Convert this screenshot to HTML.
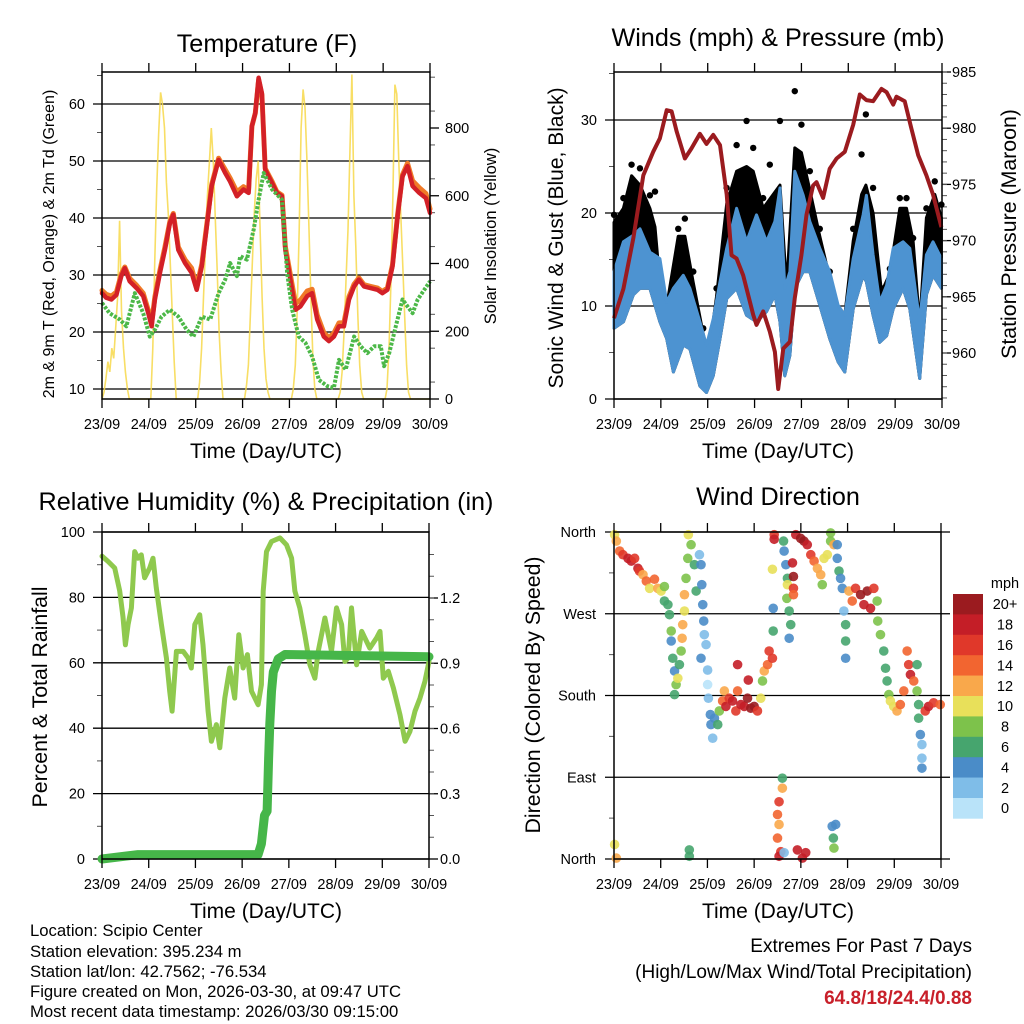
<!DOCTYPE html>
<html><head><meta charset="utf-8"><title>Station Meteogram</title>
<style>
html,body{margin:0;padding:0;background:#fff;}
svg{display:block;font-family:"Liberation Sans",Arial,sans-serif;}
</style></head>
<body>
<svg id="chart" width="1024" height="1024" viewBox="0 0 1024 1024" xmlns="http://www.w3.org/2000/svg">
<rect x="0" y="0" width="1024" height="1024" fill="#fff"/>
<g id="p1"></g>
<g id="p2"></g>
<g id="p3"></g>
<g id="p4"></g>
<g id="legend"></g>

<text x="267" y="52" font-size="25.2" text-anchor="middle">Temperature (F)</text>
<text x="778" y="46" font-size="25.2" text-anchor="middle">Winds (mph) &amp; Pressure (mb)</text>
<text x="266" y="510" font-size="25.2" text-anchor="middle">Relative Humidity (%) &amp; Precipitation (in)</text>
<text x="778" y="505" font-size="25.2" text-anchor="middle">Wind Direction</text>

<text x="266" y="458" font-size="21" text-anchor="middle">Time (Day/UTC)</text>
<text x="778" y="458" font-size="21" text-anchor="middle">Time (Day/UTC)</text>
<text x="266" y="918" font-size="21" text-anchor="middle">Time (Day/UTC)</text>
<text x="778" y="918" font-size="21" text-anchor="middle">Time (Day/UTC)</text>

<text transform="translate(54,244) rotate(-90)" font-size="16" text-anchor="middle">2m &amp; 9m T (Red, Orange) &amp; 2m Td (Green)</text>
<text transform="translate(496,236) rotate(-90)" font-size="16.5" text-anchor="middle">Solar Insolation (Yellow)</text>
<text transform="translate(563,238) rotate(-90)" font-size="21" text-anchor="middle">Sonic Wind &amp; Gust (Blue, Black)</text>
<text transform="translate(1016,234) rotate(-90)" font-size="21.3" text-anchor="middle">Station Pressure (Maroon)</text>
<text transform="translate(47,697) rotate(-90)" font-size="21.3" text-anchor="middle">Percent &amp; Total Rainfall</text>
<text transform="translate(540,695) rotate(-90)" font-size="21.3" text-anchor="middle">Direction (Colored By Speed)</text>

<g font-size="16.7">
<text x="30" y="936">Location: Scipio Center</text>
<text x="30" y="957">Station elevation: 395.234 m</text>
<text x="30" y="977">Station lat/lon: 42.7562; -76.534</text>
<text x="30" y="997">Figure created on Mon, 2026-03-30, at 09:47 UTC</text>
<text x="30" y="1017">Most recent data timestamp: 2026/03/30 09:15:00</text>
</g>
<g font-size="19" text-anchor="end">
<text x="972" y="952">Extremes For Past 7 Days</text>
<text x="972" y="978">(High/Low/Max Wind/Total Precipitation)</text>
<text x="972" y="1004" fill="#c8202a" font-weight="bold">64.8/18/24.4/0.88</text>
</g>
</svg>
<script>
// ---------- data ----------
const dayLabels = ['23/09','24/09','25/09','26/09','27/09','28/09','29/09','30/09'];

const tempHours = [0,2.2,4.8,7.4,9.9,11.7,14.2,17.7,21.1,23.7,25.4,27.1,29.7,32.2,34.8,36.5,39.1,42.5,45.9,48.5,51.1,53.7,56.2,59.7,63.1,65.6,69.1,72.5,75.1,76.8,78.5,80.2,81.9,83.6,87.1,89.6,92.2,93.9,96.5,99.1,101.6,105.1,107.6,110.2,113.6,116.2,118.8,121.4,123.9,126.5,129.1,131.6,134.2,137.6,141.1,143.6,146.2,148.8,151.4,153.9,156.5,159.1,162.5,165.9,168];
const temp2m = [26.8,26,25.7,26.5,29.8,31.2,28.9,27.7,26.3,23.3,21,25.7,30.4,34.4,39.1,40.6,34.4,32.1,30.4,27.4,31.5,38.5,45.6,50.2,47.9,46.4,43.8,45,44.4,56.1,58.4,64.6,61.9,48.5,46.1,44.4,43.8,34.4,29.2,23.9,24.5,26.3,26.8,22.2,19.2,18.4,19.2,21,21,25.7,28,29.2,28,27.7,27.4,26.8,27.4,31.5,40.3,47.3,49.1,45.6,44.4,43.5,40.9];
const temp9m = [27.3,26.6,26.3,27,30.2,31.4,29.4,28.2,26.8,23.8,21.5,26.2,30.9,34.9,39.4,40.8,34.9,32.7,31.2,28,31.9,38.9,45.9,50.5,48.5,47,44.6,45.5,44.9,56.1,58.4,64.2,61.6,48.7,46.4,44.6,44,35,30,25,25.6,27.2,27.5,23,19.9,19,19.8,21.6,21.6,26.2,28.4,29.5,28.3,28,27.7,27.1,27.7,31.8,40.6,47.6,49.6,46.5,45.3,44.3,41.6];
const tdHours = [0,3.9,9.1,12.5,16.8,21.1,24.5,27.1,30.5,34.8,39.1,43.4,46.8,51.1,55.4,59.7,63.1,65.6,69.1,70.8,74.2,77.7,80.2,82.8,87.1,90.5,92.2,94.8,97.4,100.8,104.2,107.6,111.1,115.4,118.8,121.4,124.8,129.1,132.5,135.9,139.4,142.8,144.5,147.1,150.5,153.9,156.5,159.1,161.7,165.1,168];
const dewpoint2m = [25.1,23.3,22.2,21,26.8,23.3,19.2,20.4,22.7,23.9,22.7,20.4,19.2,22.7,22.2,26.8,29.2,32.1,29.8,33.3,32.7,38,43.2,47.9,45,43.8,43.2,30.4,23.9,19.2,18.1,15.7,11.6,10.5,10.2,15.1,13.4,19.2,17.5,16.3,17.5,17.5,14,16.3,21,25.7,24.5,23.3,25.7,27.4,28.9];
// solar insolation (W/m2), hourly from 00 UTC of each day; remaining hours of the day are 0
const solarDay0 = [0,20,60,110,80,150,120,210,300,526,260,150,80,30,0];
const solarDay1 = [0,0,150,400,620,780,905,870,800,640,540,400,250,110,0];
const solarDay2 = [0,0,50,150,300,450,600,700,800,700,540,380,200,80,0];
const solarDay3 = [0,0,40,100,250,400,550,650,703,500,300,150,60,20,0];
const solarDay4 = [0,0,30,100,260,500,800,914,860,700,500,300,120,30,0];
const solarDay5 = [0,0,20,80,200,350,500,740,958,600,450,250,100,20,0];
const solarDay6 = [0,0,30,150,350,600,928,900,700,550,400,250,100,20,0];

const presHours = [0,4.8,9.9,15,20.1,23.5,27,29.5,32.1,36.3,39.7,44,47.4,50.8,54.3,57.7,60.2,62.8,66.2,71.3,73,76.4,79.8,82.4,84.1,86.7,90.1,92.6,96,98.6,102,103.7,107.1,110.5,114,118.2,122.5,125.9,129.3,132.7,137,139.6,143,144.7,148.9,152.3,155.8,160,163.4,167.7];
const pressure = [963.1,965.7,970.2,975.8,977.9,979.1,981.6,981.5,979.7,977.3,978.2,979.5,978.6,979.4,978.5,974.1,968.7,968.4,966.9,963.4,962.5,963.7,961.9,960.1,956.8,960.4,961,964.9,968.7,972.3,974.9,975.2,973.8,976.4,977.3,977.9,980.3,983,982.5,982.4,983.5,983.2,982.1,982.8,982.4,980,977.6,975.8,974.1,971.2];
const windHours = [0,4.8,9.9,13.3,18.4,23.5,27,30.4,35.5,38.9,44,47.4,50.8,54.3,57.7,62.8,67.9,73,78.1,82.4,85,87.5,90.1,92.6,96.9,100.3,105.4,110.5,114.8,118.2,122.5,127.6,129.3,132.7,136.1,139.6,143,148.1,151.5,156.6,160,163.4,167.7];
const windLow = [7.6,8.3,11.2,11.9,11.9,8.3,6.5,2.9,5.8,5.4,1.4,0.7,2.5,6.5,10.8,11.9,9,8.3,9.4,11.2,8.3,2.5,4.7,11.9,13.7,13.7,10.1,6.5,4,2.9,9.7,13.3,12.6,9,6.1,6.8,9.7,11.9,9.7,2.2,11.2,13.3,11.9];
const windHigh = [13.7,16.9,17.6,18.3,15.8,15.1,10.4,11.9,13.3,11.9,8.3,5.8,8.6,12.6,16.2,20.5,16.9,19.8,16.9,19.1,22.7,11.9,13.7,24.5,21.9,19.1,16.2,13.7,10.1,9,15.1,19.8,21.9,15.5,10.4,12.2,16.2,16.9,16.2,8.3,15.5,16.9,15.1];
const gustHours = [0,4.8,9,13.3,18.4,21,23.5,27,32.9,36.3,40.6,45.7,48.3,52.5,57.7,62.8,67.9,71.3,76.4,79.8,85,88.4,92.6,96,100.3,105.4,110.5,117.4,122.5,126.8,129,132.7,137,141.3,146.4,149.8,153.2,156.6,160,164.3,167.7];
const gust = [19.8,21.6,25.2,24.8,21.9,22.3,13.7,10.8,18.3,19.4,13.7,7.6,4.7,11.9,22.7,27.3,29.9,27,21.6,25.2,29.9,12.6,33.1,29.5,24.5,18.3,13.7,7.6,18.3,26.3,30.6,22.7,11.9,14,21.6,21.6,17.3,8.3,20.5,23.4,20.9];
const gustDense = [19,20.5,24,23,20.5,18.5,12.5,10,17.5,17.5,12.5,7,4.5,11,21,24.5,25,24.5,20.5,21.5,23,12,27,26.5,22.5,17.5,13,7.5,17,22,23,20,11.5,13.5,20.5,20.5,17,8,19.5,22,19.5];

const rhHours = [0,3.1,6.5,9.1,10.8,12,13.4,15.1,16.8,18.5,20.2,21.9,24.5,26.2,27.9,30.5,33.1,34.8,36,38.2,41.7,44.2,45.9,47.7,50.2,51.9,54.5,56.2,58.8,60.5,63.1,65.6,68.2,70.3,72.5,74.7,76.8,80.2,81.9,82.8,84.5,87.1,91.4,94.8,97.4,99.1,101.6,104.2,106.8,109.4,111.1,114.5,117.9,120.5,123.1,124.8,126.5,128.2,130.8,133.4,137.6,141.1,142.8,144.5,147.1,149.7,153.1,155.7,158.2,160.8,163.4,165.9,168];
const relHumidity = [92.6,91,89,82,74,65.5,71.7,76.8,94,92,93,86,89,92,82.9,71.7,61.5,51.3,45.2,63.5,63.5,61.5,58.4,71.7,74.7,65.5,45.2,36,41.1,34,49.2,58.4,49.2,68.6,58.4,62.5,51.3,47.2,53.3,81.9,94,97.1,98.2,96.1,92,81.9,76.8,68.6,59.4,55.3,63.5,73.7,63.5,76.8,71.7,60.4,61.5,76.8,59.4,69.6,64.5,67.6,69.6,55.3,57.4,52.3,44.1,36,39,45.2,49.2,54.3,60.4];
const precipHours = [0,18.5,80.2,81.9,83.5,84.8,85.2,85.6,86.2,87.1,88,90.5,94,168];
const precipTotal = [0,0.02,0.02,0.07,0.2,0.22,0.33,0.46,0.62,0.77,0.86,0.92,0.94,0.93];

const dirHours = [0.3,1.2,2.9,4.6,7.2,8.9,10.6,12.3,13.1,14.9,16.6,18.3,20.8,22.5,24.2,25.9,25.9,27.7,28.5,29.4,29.4,30.2,31.1,31.9,31.1,32.8,33.6,34.5,35,35.3,36.2,36.2,37,37.9,38.2,39.6,41.3,42.2,43.9,44.7,45.1,45.6,46.1,46.4,47.3,44.7,48.1,48.1,48.5,49.5,49.8,50.7,51.6,53.3,54.1,55.8,56.7,57.5,59.2,60.9,62.6,63.5,63.5,65.2,66.9,68.6,69,70.3,72,73.7,75.4,76.3,77.2,78.9,79.7,81.4,82.3,82.3,81.4,81.8,81.8,87.1,87.4,88.3,89.1,89.1,88.8,90,90.8,90,91.7,92.2,92.2,92.2,84.8,84,84.8,84,85.7,84.8,86.5,86.5,87.4,0.3,1.2,38.7,38.7,94.2,96.8,98.5,112.1,112.7,113,113.9,93.4,95.9,97.6,99.3,101.1,102.8,104.5,106.2,107,107.9,109.6,111.3,111.3,113,114.7,114.7,115.6,116.4,117.3,118.1,119,119,119,120.7,122.4,124.1,126.7,128.4,130.1,131.8,133.5,135.2,135.5,136.9,138.6,139.5,140.3,141.2,142,143.7,145.4,147.1,148.9,150.6,151.4,152.3,154,155.7,155.7,156.5,156.5,157.4,158.2,158.2,158.2,159.9,161.6,164.2,167.6];
const dirDegrees = [357,350,339,335,331,328,331,320,317,313,306,298,308,298,295,300,284,280,269,251,240,221,207,192,181,199,214,229,243,258,273,291,309,331,357,346,324,295,335,324,302,280,262,247,236,221,208,192,177,159,148,133,155,148,163,174,185,168,177,174,163,214,185,170,168,177,197,166,168,163,177,196,207,214,229,221,357,352,319,276,251,350,339,324,309,302,287,273,258,243,326,311,298,291,63,49,38,23,8,3,89,78,7,16,1,10,3,10,1,7,36,23,12,38,357,353,350,346,335,328,320,313,302,331,335,350,359,346,346,331,317,309,298,273,258,240,221,295,284,298,291,280,295,276,298,284,262,247,229,210,196,181,174,168,163,170,185,229,214,203,196,214,185,170,155,137,126,111,100,163,168,172,170];
const dirSpeed = [10,12,14,16,18,18,16,18,16,12,14,10,14,12,10,8,6,6,6,8,4,6,4,8,6,10,6,8,12,12,10,12,8,8,10,8,6,6,2,4,4,4,4,2,2,4,2,1,2,4,4,2,4,6,8,14,12,18,16,18,16,18,14,18,18,20,18,20,20,16,10,8,12,14,16,16,16,18,10,4,6,6,4,4,6,10,8,6,6,4,18,20,16,14,16,14,12,14,16,18,6,12,2,10,12,6,6,18,18,18,4,6,8,4,18,20,20,18,16,14,12,12,8,10,10,8,8,12,4,4,6,4,4,2,6,6,4,12,14,16,20,18,20,18,16,8,8,8,6,6,6,8,10,10,12,14,14,14,16,18,14,6,8,6,6,4,2,2,4,16,18,16,14];

const speedBins = [0,2,4,6,8,10,12,14,16,18,20];
const speedLabels = ['0','2','4','6','8','10','12','14','16','18','20+'];
const speedColors = ['#b9e3f9','#7fbde8','#4a8cc8','#46a56e','#7dc24b','#e8e05a','#f9a84b','#f26530','#e0382a','#c41e27','#9b1b1f'];

const tempTicks = [10,20,30,40,50,60];
const solarTicks = [0,200,400,600,800];
const windTicks = [0,10,20,30];
const presTicks = [960,965,970,975,980,985];
const rhTicks = [0,20,40,60,80,100];
const precipTicks = [0,0.3,0.6,0.9,1.2];
const precipTickLabels = ['0.0','0.3','0.6','0.9','1.2'];
const dirTicks = [0,90,180,270,360];
const dirTickLabels = ['North','East','South','West','North'];

// ---------- helpers ----------
const NS = 'http://www.w3.org/2000/svg';
function mk(tag, attrs, parent){
  const e = document.createElementNS(NS, tag);
  for (const k in attrs) e.setAttribute(k, attrs[k]);
  parent.appendChild(e);
  return e;
}
function lin(d0,d1,r0,r1){ return v => r0 + (v-d0)*(r1-r0)/(d1-d0); }
function pathOf(xs, ys, sx, sy){
  let d = '';
  for (let i=0;i<xs.length;i++) d += (i?'L':'M') + sx(xs[i]).toFixed(1) + ' ' + sy(ys[i]).toFixed(1);
  return d;
}
function speedColor(s){
  let idx = 0;
  for (let i=0;i<speedBins.length;i++) if (s >= speedBins[i]) idx = i;
  return speedColors[idx];
}

function frame(g, P){
  for (let d=0; d<dayLabels.length; d++){
    const x = P.sx(d*24);
    const t1 = mk('line',{x1:x,y1:P.y0-9,x2:x,y2:P.y0,stroke:'#000','stroke-width':1.3},g);
    
    
    const t2 = mk('line',{x1:x,y1:P.y1,x2:x,y2:P.y1+9,stroke:'#000','stroke-width':1.3},g);
    
    
    const lb = mk('text',{x:x,y:P.y1+30,'font-size':14.5,'text-anchor':'middle'},g);
    lb.textContent = dayLabels[d];
    
    
  }
  const r = mk('rect',{x:P.x0,y:P.y0,width:P.x1-P.x0,height:P.y1-P.y0,fill:'none',stroke:'#000','stroke-width':1.5},g);
  
  
}
function leftAxis(g, P, ticks, labels, sy, minorStart, minorStep, minorEnd, grid){
  for (let i=0;i<ticks.length;i++){
    const y = sy(ticks[i]);
    const gl = mk('line',{x1:P.x0-9,y1:y,x2:grid?P.x1:P.x0,y2:y,stroke:'#000','stroke-width':1.3},g);
    
    
    const lb = mk('text',{x:P.x0-P.lpad,y:y+5,'font-size':14.5,'text-anchor':'end'},g);
    lb.textContent = labels[i];
    
    
  }
  for (let v=minorStart; v<=minorEnd+1e-9; v+=minorStep){
    const y = sy(v);
    const mt = mk('line',{x1:P.x0-5,y1:y,x2:P.x0,y2:y,stroke:'#555','stroke-width':1},g);
    
    
  }
}
function rightAxis(g, P, ticks, labels, sy, minorStart, minorStep, minorEnd, pad){
  for (let i=0;i<ticks.length;i++){
    const y = sy(ticks[i]);
    const tk = mk('line',{x1:P.x1,y1:y,x2:P.x1+9,y2:y,stroke:'#000','stroke-width':1.3},g);
    
    
    const lb = mk('text',{x:P.x1+pad,y:y+5,'font-size':14.5,'text-anchor':'start'},g);
    lb.textContent = labels[i];
    
    
  }
  for (let v=minorStart; v<=minorEnd+1e-9; v+=minorStep){
    const y = sy(v);
    const mt = mk('line',{x1:P.x1,y1:y,x2:P.x1+5,y2:y,stroke:'#555','stroke-width':1},g);
    
    
  }
}

// ---------- panel 1: temperature ----------
(function(){
  const g = document.getElementById('p1');
  const P = {x0:102,x1:430,y0:72,y1:399,lpad:17};
  P.sx = lin(0,168,P.x0,P.x1);
  const sy = lin(10,60,389,104);
  const sr = lin(0,800,399,128);
  leftAxis(g,P,tempTicks,tempTicks.map(String),sy,15,10,65,true);
  rightAxis(g,P,solarTicks,solarTicks.map(String),sr,50,100,950,15);
  const days = [solarDay0,solarDay1,solarDay2,solarDay3,solarDay4,solarDay5,solarDay6];
  const sh = [], sv = [];
  days.forEach((arr,d)=>{ arr.forEach((v,h)=>{ sh.push(d*24+h); sv.push(v); }); sh.push(d*24+23.9); sv.push(0); });
  const sol = mk('path',{d:pathOf(sh,sv,P.sx,sr),fill:'none',stroke:'#f7d84a','stroke-width':1.6,'stroke-opacity':0.85},g);
  
  
  const o = mk('path',{d:pathOf(tempHours,temp9m,P.sx,sy),fill:'none',stroke:'#f07a28','stroke-width':5,'stroke-linejoin':'round','stroke-linecap':'round'},g);
  
  
  const r = mk('path',{d:pathOf(tempHours,temp2m,P.sx,sy),fill:'none',stroke:'#d32027','stroke-width':4.5,'stroke-linejoin':'round','stroke-linecap':'round'},g);
  
  
  const gr = mk('path',{d:pathOf(tdHours,dewpoint2m,P.sx,sy),fill:'none',stroke:'#4cb848','stroke-width':4,'stroke-dasharray':'3 1.5','stroke-linejoin':'round'},g);
  
  
  frame(g,P);
})();

// ---------- panel 2: winds & pressure ----------
(function(){
  const g = document.getElementById('p2');
  const P = {x0:614,x1:942,y0:72,y1:399,lpad:17};
  P.sx = lin(0,168,P.x0,P.x1);
  const sy = lin(0,30,399,120);
  const sp = lin(960,985,353,72);
  leftAxis(g,P,windTicks,windTicks.map(String),sy,5,10,35,true);
  rightAxis(g,P,presTicks,presTicks.map(String),sp,956,1,985,10);
  let d = pathOf(gustHours,gustDense,P.sx,sy);
  for (let i=windHours.length-1;i>=0;i--) d += 'L'+P.sx(windHours[i]).toFixed(1)+' '+sy(windLow[i]).toFixed(1);
  const gb = mk('path',{d:d+'Z',fill:'#000',stroke:'#000','stroke-width':3,'stroke-linejoin':'round'},g);
  
  
  for (let i=0;i<gust.length;i++){
    const c = mk('circle',{cx:P.sx(gustHours[i]),cy:sy(gust[i]),r:3.2,fill:'#000'},g);
    
    
  }
  let b = pathOf(windHours,windHigh,P.sx,sy);
  for (let i=windHours.length-1;i>=0;i--) b += 'L'+P.sx(windHours[i]).toFixed(1)+' '+sy(windLow[i]).toFixed(1);
  const bb = mk('path',{d:b+'Z',fill:'#4d93d1',stroke:'#4d93d1','stroke-width':3,'stroke-linejoin':'round'},g);
  
  
  const pl = mk('path',{d:pathOf(presHours,pressure,P.sx,sp),fill:'none',stroke:'#9b1b1f','stroke-width':4,'stroke-linejoin':'round'},g);
  
  
  frame(g,P);
})();

// ---------- panel 3: humidity & precip ----------
(function(){
  const g = document.getElementById('p3');
  const P = {x0:102,x1:429,y0:532,y1:859,lpad:17};
  P.sx = lin(0,168,P.x0,P.x1);
  const sy = lin(0,100,859,532);
  const sp = lin(0,1.2,859,598);
  leftAxis(g,P,rhTicks,rhTicks.map(String),sy,10,20,90,true);
  rightAxis(g,P,precipTicks,precipTickLabels,sp,0.1,0.1,1.4,11);
  const rh = mk('path',{d:pathOf(rhHours,relHumidity,P.sx,sy),fill:'none',stroke:'#8fc94e','stroke-width':5,'stroke-linejoin':'round','stroke-linecap':'round'},g);
  
  
  const pr = mk('path',{d:pathOf(precipHours,precipTotal,P.sx,sp),fill:'none',stroke:'#46b649','stroke-width':9,'stroke-linejoin':'round','stroke-linecap':'round'},g);
  
  
  frame(g,P);
})();

// ---------- panel 4: wind direction ----------
(function(){
  const g = document.getElementById('p4');
  const P = {x0:614,x1:941,y0:532,y1:859,lpad:18};
  P.sx = lin(0,168,P.x0,P.x1);
  const sy = lin(0,360,859,532);
  leftAxis(g,P,dirTicks,dirTickLabels,sy,45,90,315,true);
  for (let i=0;i<dirTicks.length;i++){
    const tk = mk('line',{x1:P.x1,y1:sy(dirTicks[i]),x2:P.x1+9,y2:sy(dirTicks[i]),stroke:'#000','stroke-width':1.3},g);
    
    
  }
  for (let i=0;i<dirHours.length;i++){
    const c = mk('circle',{cx:P.sx(dirHours[i]),cy:sy(dirDegrees[i]),r:4.8,fill:speedColor(dirSpeed[i]),'fill-opacity':0.9},g);
    
    
  }
  frame(g,P);
})();

// ---------- colorbar ----------
(function(){
  const g = document.getElementById('legend');
  const t = mk('text',{x:1005,y:588,'font-size':14.5,'text-anchor':'middle'},g);
  t.textContent = 'mph';
  
  
  const top = 594, h = 20.4;
  for (let i=0;i<speedBins.length;i++){
    const k = speedBins.length-1-i;
    const r = mk('rect',{x:953,y:top+i*h,width:30,height:h+0.3,fill:speedColors[k]},g);
    
    
    const lb = mk('text',{x:1005,y:top+i*h+h/2+5,'font-size':14.5,'text-anchor':'middle'},g);
    lb.textContent = speedLabels[k];
    
    
  }
})();
</script>
</body></html>
